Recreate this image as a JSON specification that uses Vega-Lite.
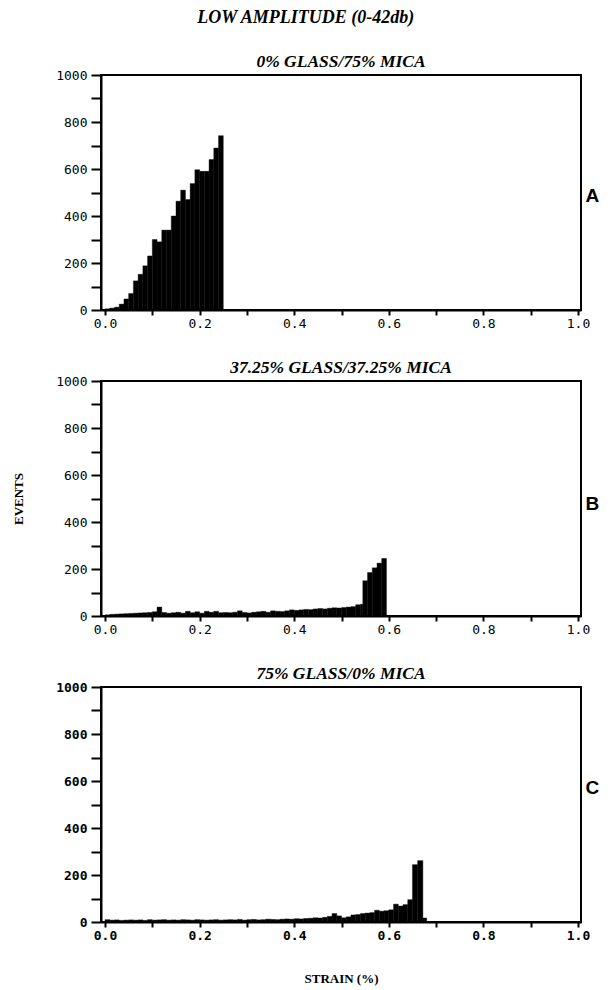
{
  "$schema": "https://vega.github.io/schema/vega-lite/v6.json",
  "padding": {"left": 11, "top": 8, "right": 5, "bottom": 5},
  "background": "white",
  "title": {"text": "LOW AMPLITUDE (0-42db)", "font": "Liberation Serif", "fontStyle": "italic", "fontWeight": "bold", "fontSize": 18, "anchor": "middle", "offset": 25, "color": "black"},
  "datasets": {
    "A": [
      {"x0": 0.00, "x1": 0.01, "events": 5}, {"x0": 0.01, "x1": 0.02, "events": 8}, {"x0": 0.02, "x1": 0.03, "events": 12},
      {"x0": 0.03, "x1": 0.04, "events": 25}, {"x0": 0.04, "x1": 0.05, "events": 47}, {"x0": 0.05, "x1": 0.06, "events": 70},
      {"x0": 0.06, "x1": 0.07, "events": 124}, {"x0": 0.07, "x1": 0.08, "events": 152}, {"x0": 0.08, "x1": 0.09, "events": 188},
      {"x0": 0.09, "x1": 0.10, "events": 230}, {"x0": 0.10, "x1": 0.11, "events": 300}, {"x0": 0.11, "x1": 0.12, "events": 290},
      {"x0": 0.12, "x1": 0.13, "events": 340}, {"x0": 0.13, "x1": 0.14, "events": 340}, {"x0": 0.14, "x1": 0.15, "events": 400},
      {"x0": 0.15, "x1": 0.16, "events": 463}, {"x0": 0.16, "x1": 0.17, "events": 510}, {"x0": 0.17, "x1": 0.18, "events": 470},
      {"x0": 0.18, "x1": 0.19, "events": 538}, {"x0": 0.19, "x1": 0.20, "events": 597}, {"x0": 0.20, "x1": 0.21, "events": 590},
      {"x0": 0.21, "x1": 0.22, "events": 590}, {"x0": 0.22, "x1": 0.23, "events": 640}, {"x0": 0.23, "x1": 0.24, "events": 689},
      {"x0": 0.24, "x1": 0.25, "events": 742}
    ],
    "B": [
      {"x0": 0.00, "x1": 0.01, "events": 5}, {"x0": 0.01, "x1": 0.02, "events": 7}, {"x0": 0.02, "x1": 0.03, "events": 8},
      {"x0": 0.03, "x1": 0.04, "events": 9}, {"x0": 0.04, "x1": 0.05, "events": 10}, {"x0": 0.05, "x1": 0.06, "events": 11},
      {"x0": 0.06, "x1": 0.07, "events": 12}, {"x0": 0.07, "x1": 0.08, "events": 13}, {"x0": 0.08, "x1": 0.09, "events": 14},
      {"x0": 0.09, "x1": 0.10, "events": 15}, {"x0": 0.10, "x1": 0.11, "events": 18}, {"x0": 0.11, "x1": 0.12, "events": 38},
      {"x0": 0.12, "x1": 0.13, "events": 15}, {"x0": 0.13, "x1": 0.14, "events": 12}, {"x0": 0.14, "x1": 0.15, "events": 14},
      {"x0": 0.15, "x1": 0.16, "events": 16}, {"x0": 0.16, "x1": 0.17, "events": 12}, {"x0": 0.17, "x1": 0.18, "events": 20},
      {"x0": 0.18, "x1": 0.19, "events": 14}, {"x0": 0.19, "x1": 0.20, "events": 18}, {"x0": 0.20, "x1": 0.21, "events": 12},
      {"x0": 0.21, "x1": 0.22, "events": 20}, {"x0": 0.22, "x1": 0.23, "events": 16}, {"x0": 0.23, "x1": 0.24, "events": 20},
      {"x0": 0.24, "x1": 0.25, "events": 14}, {"x0": 0.25, "x1": 0.26, "events": 15}, {"x0": 0.26, "x1": 0.27, "events": 14},
      {"x0": 0.27, "x1": 0.28, "events": 16}, {"x0": 0.28, "x1": 0.29, "events": 22}, {"x0": 0.29, "x1": 0.30, "events": 15},
      {"x0": 0.30, "x1": 0.31, "events": 13}, {"x0": 0.31, "x1": 0.32, "events": 16}, {"x0": 0.32, "x1": 0.33, "events": 18},
      {"x0": 0.33, "x1": 0.34, "events": 20}, {"x0": 0.34, "x1": 0.35, "events": 16}, {"x0": 0.35, "x1": 0.36, "events": 22},
      {"x0": 0.36, "x1": 0.37, "events": 20}, {"x0": 0.37, "x1": 0.38, "events": 19}, {"x0": 0.38, "x1": 0.39, "events": 22},
      {"x0": 0.39, "x1": 0.40, "events": 26}, {"x0": 0.40, "x1": 0.41, "events": 24}, {"x0": 0.41, "x1": 0.42, "events": 26},
      {"x0": 0.42, "x1": 0.43, "events": 28}, {"x0": 0.43, "x1": 0.44, "events": 27}, {"x0": 0.44, "x1": 0.45, "events": 30},
      {"x0": 0.45, "x1": 0.46, "events": 32}, {"x0": 0.46, "x1": 0.47, "events": 30}, {"x0": 0.47, "x1": 0.48, "events": 33},
      {"x0": 0.48, "x1": 0.49, "events": 35}, {"x0": 0.49, "x1": 0.50, "events": 34}, {"x0": 0.50, "x1": 0.51, "events": 36},
      {"x0": 0.51, "x1": 0.52, "events": 38}, {"x0": 0.52, "x1": 0.53, "events": 40}, {"x0": 0.53, "x1": 0.54, "events": 48},
      {"x0": 0.54, "x1": 0.545, "events": 50}, {"x0": 0.545, "x1": 0.555, "events": 150}, {"x0": 0.555, "x1": 0.565, "events": 185},
      {"x0": 0.565, "x1": 0.575, "events": 205}, {"x0": 0.575, "x1": 0.585, "events": 225}, {"x0": 0.585, "x1": 0.595, "events": 245}
    ],
    "C": [
      {"x0": 0.00, "x1": 0.01, "events": 10}, {"x0": 0.01, "x1": 0.02, "events": 8}, {"x0": 0.02, "x1": 0.03, "events": 9},
      {"x0": 0.03, "x1": 0.04, "events": 7}, {"x0": 0.04, "x1": 0.05, "events": 8}, {"x0": 0.05, "x1": 0.06, "events": 9},
      {"x0": 0.06, "x1": 0.07, "events": 8}, {"x0": 0.07, "x1": 0.08, "events": 9}, {"x0": 0.08, "x1": 0.09, "events": 7},
      {"x0": 0.09, "x1": 0.10, "events": 10}, {"x0": 0.10, "x1": 0.11, "events": 8}, {"x0": 0.11, "x1": 0.12, "events": 9},
      {"x0": 0.12, "x1": 0.13, "events": 10}, {"x0": 0.13, "x1": 0.14, "events": 8}, {"x0": 0.14, "x1": 0.15, "events": 9},
      {"x0": 0.15, "x1": 0.16, "events": 8}, {"x0": 0.16, "x1": 0.17, "events": 10}, {"x0": 0.17, "x1": 0.18, "events": 9},
      {"x0": 0.18, "x1": 0.19, "events": 8}, {"x0": 0.19, "x1": 0.20, "events": 10}, {"x0": 0.20, "x1": 0.21, "events": 9},
      {"x0": 0.21, "x1": 0.22, "events": 8}, {"x0": 0.22, "x1": 0.23, "events": 9}, {"x0": 0.23, "x1": 0.24, "events": 10},
      {"x0": 0.24, "x1": 0.25, "events": 8}, {"x0": 0.25, "x1": 0.26, "events": 9}, {"x0": 0.26, "x1": 0.27, "events": 10},
      {"x0": 0.27, "x1": 0.28, "events": 9}, {"x0": 0.28, "x1": 0.29, "events": 11}, {"x0": 0.29, "x1": 0.30, "events": 8},
      {"x0": 0.30, "x1": 0.31, "events": 10}, {"x0": 0.31, "x1": 0.32, "events": 11}, {"x0": 0.32, "x1": 0.33, "events": 9},
      {"x0": 0.33, "x1": 0.34, "events": 10}, {"x0": 0.34, "x1": 0.35, "events": 12}, {"x0": 0.35, "x1": 0.36, "events": 11},
      {"x0": 0.36, "x1": 0.37, "events": 10}, {"x0": 0.37, "x1": 0.38, "events": 12}, {"x0": 0.38, "x1": 0.39, "events": 13},
      {"x0": 0.39, "x1": 0.40, "events": 12}, {"x0": 0.40, "x1": 0.41, "events": 14}, {"x0": 0.41, "x1": 0.42, "events": 13},
      {"x0": 0.42, "x1": 0.43, "events": 15}, {"x0": 0.43, "x1": 0.44, "events": 16}, {"x0": 0.44, "x1": 0.45, "events": 18},
      {"x0": 0.45, "x1": 0.46, "events": 17}, {"x0": 0.46, "x1": 0.47, "events": 20}, {"x0": 0.47, "x1": 0.48, "events": 24},
      {"x0": 0.48, "x1": 0.49, "events": 36}, {"x0": 0.49, "x1": 0.50, "events": 26}, {"x0": 0.50, "x1": 0.51, "events": 18},
      {"x0": 0.51, "x1": 0.52, "events": 22}, {"x0": 0.52, "x1": 0.53, "events": 30}, {"x0": 0.53, "x1": 0.54, "events": 32},
      {"x0": 0.54, "x1": 0.55, "events": 36}, {"x0": 0.55, "x1": 0.56, "events": 38}, {"x0": 0.56, "x1": 0.57, "events": 40},
      {"x0": 0.57, "x1": 0.58, "events": 50}, {"x0": 0.58, "x1": 0.59, "events": 46}, {"x0": 0.59, "x1": 0.60, "events": 48},
      {"x0": 0.60, "x1": 0.61, "events": 52}, {"x0": 0.61, "x1": 0.62, "events": 76}, {"x0": 0.62, "x1": 0.63, "events": 68},
      {"x0": 0.63, "x1": 0.64, "events": 74}, {"x0": 0.64, "x1": 0.65, "events": 95}, {"x0": 0.65, "x1": 0.661, "events": 244},
      {"x0": 0.661, "x1": 0.672, "events": 261}, {"x0": 0.672, "x1": 0.68, "events": 17}
    ]
  },
  "vconcat": [
    {
      "width": 480, "height": 235,
      "title": {"text": "0% GLASS/75% MICA", "font": "Liberation Serif", "fontStyle": "italic", "fontWeight": "bold", "fontSize": 17.5, "offset": -1, "color": "black"},
      "data": {"name": "A"},
      "layer": [
        {
          "mark": {"type": "bar", "color": "black", "stroke": "black", "strokeWidth": 0.4},
          "encoding": {
            "x": {"field": "x0", "type": "quantitative", "scale": {"domain": [-0.0085, 1.0063], "nice": false, "zero": false},
              "axis": {"title": null, "values": [0, 0.1, 0.2, 0.3, 0.4, 0.5, 0.6, 0.7, 0.8, 0.9, 1.0], "labelExpr": "round(datum.value*10)%2==0 ? format(datum.value,'.1f') : ''", "tickSize": 5, "labelPadding": 2}},
            "x2": {"field": "x1"},
            "y": {"field": "events", "type": "quantitative", "scale": {"domain": [0, 1000], "nice": false},
              "axis": {"title": "EVENTS", "titleOpacity": 0, "values": [0, 100, 200, 300, 400, 500, 600, 700, 800, 900, 1000], "labelExpr": "datum.value % 200 == 0 ? datum.label : ''", "format": "d", "tickSize": 10, "labelPadding": 4, "titlePadding": 30}},
            "y2": {"datum": 0}
          }
        },
        {
          "mark": {"type": "bar", "opacity": 0},
          "encoding": {
            "x": {"field": "x0", "type": "quantitative", "scale": {"domain": [-0.0085, 1.0063], "nice": false, "zero": false},
              "axis": {"title": null, "values": [0, 0.1, 0.2, 0.3, 0.4, 0.5, 0.6, 0.7, 0.8, 0.9, 1.0], "labelExpr": "round(datum.value*10)%2==0 ? format(datum.value,'.1f') : ''", "tickSize": 5, "labelPadding": 2}},
            "x2": {"field": "x1"},
            "y": {"field": "events", "type": "quantitative", "scale": {"domain": [0, 1000], "nice": false},
              "axis": {"orient": "right", "title": "A", "titleAngle": 0, "titleBaseline": "middle", "titleAlign": "left", "titleY": 120, "titleFont": "Liberation Sans", "titleFontWeight": "bold", "titleFontSize": 19, "titlePadding": 4, "labels": false, "ticks": false, "domain": false}},
            "y2": {"datum": 0}
          }
        }
      ],
      "resolve": {"axis": {"y": "independent"}}
    },
    {
      "width": 480, "height": 235,
      "title": {"text": "37.25% GLASS/37.25% MICA", "font": "Liberation Serif", "fontStyle": "italic", "fontWeight": "bold", "fontSize": 17.5, "offset": -1, "color": "black"},
      "data": {"name": "B"},
      "layer": [
        {
          "mark": {"type": "bar", "color": "black", "stroke": "black", "strokeWidth": 0.4},
          "encoding": {
            "x": {"field": "x0", "type": "quantitative", "scale": {"domain": [-0.0085, 1.0063], "nice": false, "zero": false},
              "axis": {"title": null, "values": [0, 0.1, 0.2, 0.3, 0.4, 0.5, 0.6, 0.7, 0.8, 0.9, 1.0], "labelExpr": "round(datum.value*10)%2==0 ? format(datum.value,'.1f') : ''", "tickSize": 5, "labelPadding": 2}},
            "x2": {"field": "x1"},
            "y": {"field": "events", "type": "quantitative", "scale": {"domain": [0, 1000], "nice": false},
              "axis": {"title": "EVENTS", "values": [0, 100, 200, 300, 400, 500, 600, 700, 800, 900, 1000], "labelExpr": "datum.value % 200 == 0 ? datum.label : ''", "format": "d", "tickSize": 10, "labelPadding": 4, "titlePadding": 30}},
            "y2": {"datum": 0}
          }
        },
        {
          "mark": {"type": "bar", "opacity": 0},
          "encoding": {
            "x": {"field": "x0", "type": "quantitative", "scale": {"domain": [-0.0085, 1.0063], "nice": false, "zero": false},
              "axis": {"title": null, "values": [0, 0.1, 0.2, 0.3, 0.4, 0.5, 0.6, 0.7, 0.8, 0.9, 1.0], "labelExpr": "round(datum.value*10)%2==0 ? format(datum.value,'.1f') : ''", "tickSize": 5, "labelPadding": 2}},
            "x2": {"field": "x1"},
            "y": {"field": "events", "type": "quantitative", "scale": {"domain": [0, 1000], "nice": false},
              "axis": {"orient": "right", "title": "B", "titleAngle": 0, "titleBaseline": "middle", "titleAlign": "left", "titleY": 122, "titleFont": "Liberation Sans", "titleFontWeight": "bold", "titleFontSize": 19, "titlePadding": 4, "labels": false, "ticks": false, "domain": false}},
            "y2": {"datum": 0}
          }
        }
      ],
      "resolve": {"axis": {"y": "independent"}}
    },
    {
      "width": 480, "height": 235,
      "title": {"text": "75% GLASS/0% MICA", "font": "Liberation Serif", "fontStyle": "italic", "fontWeight": "bold", "fontSize": 17.5, "offset": -1, "color": "black"},
      "data": {"name": "C"},
      "layer": [
        {
          "mark": {"type": "bar", "color": "black", "stroke": "black", "strokeWidth": 0.4},
          "encoding": {
            "x": {"field": "x0", "type": "quantitative", "scale": {"domain": [-0.0085, 1.0063], "nice": false, "zero": false},
              "axis": {"title": "STRAIN (%)", "titlePadding": 30, "values": [0, 0.1, 0.2, 0.3, 0.4, 0.5, 0.6, 0.7, 0.8, 0.9, 1.0], "labelExpr": "round(datum.value*10)%2==0 ? format(datum.value,'.1f') : ''", "tickSize": 5, "labelPadding": 2, "labelFontWeight": "bold"}},
            "x2": {"field": "x1"},
            "y": {"field": "events", "type": "quantitative", "scale": {"domain": [0, 1000], "nice": false},
              "axis": {"title": "EVENTS", "titleOpacity": 0, "values": [0, 100, 200, 300, 400, 500, 600, 700, 800, 900, 1000], "labelExpr": "datum.value % 200 == 0 ? datum.label : ''", "format": "d", "tickSize": 10, "labelPadding": 4, "titlePadding": 30, "labelFontWeight": "bold"}},
            "y2": {"datum": 0}
          }
        },
        {
          "mark": {"type": "bar", "opacity": 0},
          "encoding": {
            "x": {"field": "x0", "type": "quantitative", "scale": {"domain": [-0.0085, 1.0063], "nice": false, "zero": false},
              "axis": {"title": "STRAIN (%)", "titlePadding": 30, "values": [0, 0.1, 0.2, 0.3, 0.4, 0.5, 0.6, 0.7, 0.8, 0.9, 1.0], "labelExpr": "round(datum.value*10)%2==0 ? format(datum.value,'.1f') : ''", "tickSize": 5, "labelPadding": 2, "labelFontWeight": "bold"}},
            "x2": {"field": "x1"},
            "y": {"field": "events", "type": "quantitative", "scale": {"domain": [0, 1000], "nice": false},
              "axis": {"orient": "right", "title": "C", "titleAngle": 0, "titleBaseline": "middle", "titleAlign": "left", "titleY": 100, "titleFont": "Liberation Sans", "titleFontWeight": "bold", "titleFontSize": 19, "titlePadding": 4, "labels": false, "ticks": false, "domain": false}},
            "y2": {"datum": 0}
          }
        }
      ],
      "resolve": {"axis": {"y": "independent"}}
    }
  ],
  "spacing": 26,
  "config": {
    "view": {"stroke": "black", "strokeWidth": 2},
    "axis": {"domainColor": "black", "domainWidth": 2, "tickColor": "black", "tickWidth": 2, "labelColor": "black", "labelFont": "DejaVu Sans Mono", "labelFontSize": 13, "grid": false, "titleFont": "Liberation Serif", "titleFontWeight": "bold", "titleFontSize": 13, "titleColor": "black"}
  }
}
